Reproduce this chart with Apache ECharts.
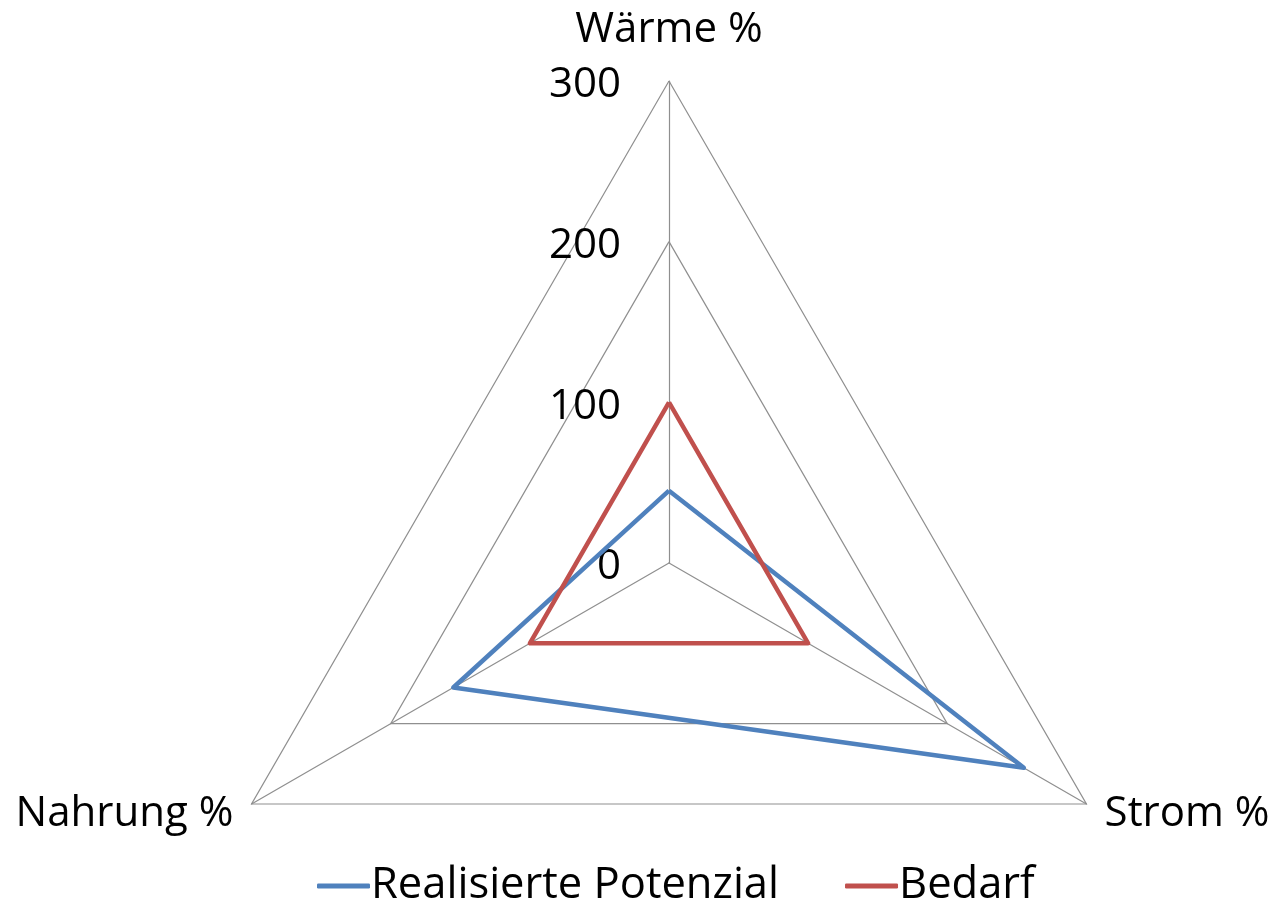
<!DOCTYPE html>
<html>
<head>
<meta charset="utf-8">
<script src="https://cdn.jsdelivr.net/npm/echarts@6/dist/echarts.min.js"></script>
<style>
  html, body { margin: 0; padding: 0; background: #ffffff; }
  #chart { width: 1276px; height: 905px; }
</style>
</head>
<body>
<div id="chart"></div>
<script>
// Axes of the radar (order runs counter-clockwise from the top)
const indicators = ['Wärme %', 'Nahrung %', 'Strom %'];
const axisMax = 300;
const seriesNames = ['Realisierte Potenzial', 'Bedarf'];
const realisiert = [45, 155, 255];
const bedarf = [100, 100, 100];
const seriesColors = ['#4F81BD', '#C0504D'];

const FONT = '"Open Sans", "Noto Sans", sans-serif';

const chart = echarts.init(document.getElementById('chart'));

chart.setOption({
  backgroundColor: '#ffffff',
  animation: false,
  legend: {
    left: 317,
    top: 864,
    padding: 0,
    icon: 'roundRect',
    itemWidth: 53,
    itemHeight: 5,
    itemGap: 66,
    textStyle: { fontFamily: FONT, fontSize: 43.5, color: '#000', padding: [0, 0, 0, -4] },
    data: seriesNames
  },
  radar: {
    center: [669, 563],
    radius: 482,
    startAngle: 90,
    splitNumber: 3,
    shape: 'polygon',
    axisName: {
      fontFamily: FONT,
      fontSize: 42,
      color: '#000',
      // the top label sits a little higher than the two lower ones
      formatter: function (name) {
        return name === indicators[0] ? '{top|' + name + '}' : name;
      },
      rich: {
        top: { fontFamily: FONT, fontSize: 42, color: '#000', padding: [0, 0, 9, 0] }
      }
    },
    nameGap: 21,
    splitArea: { show: false },
    splitLine: { lineStyle: { color: '#8f8f8f', width: 1.2 } },
    axisLine: { lineStyle: { color: '#8f8f8f', width: 1.2 } },
    axisTick: { show: false },
    indicator: indicators.map(function (name, i) {
      return {
        name: name,
        min: 0,
        max: axisMax,
        axisLabel: {
          show: i === 0,
          showMinLabel: true,
          showMaxLabel: true,
          margin: 48,
          formatter: function (v) { return '{v|' + v + '}'; },
          rich: {
            v: { fontFamily: FONT, fontSize: 42, color: '#000', padding: [9, 0, 0, 0] }
          }
        }
      };
    })
  },
  series: [{
    type: 'radar',
    symbol: 'none',
    data: [
      {
        name: seriesNames[0],
        value: realisiert,
        itemStyle: { color: seriesColors[0] },
        lineStyle: { color: seriesColors[0], width: 4.5 }
      },
      {
        name: seriesNames[1],
        value: bedarf,
        itemStyle: { color: seriesColors[1] },
        lineStyle: { color: seriesColors[1], width: 4.5 }
      }
    ]
  }]
});
</script>
</body>
</html>
